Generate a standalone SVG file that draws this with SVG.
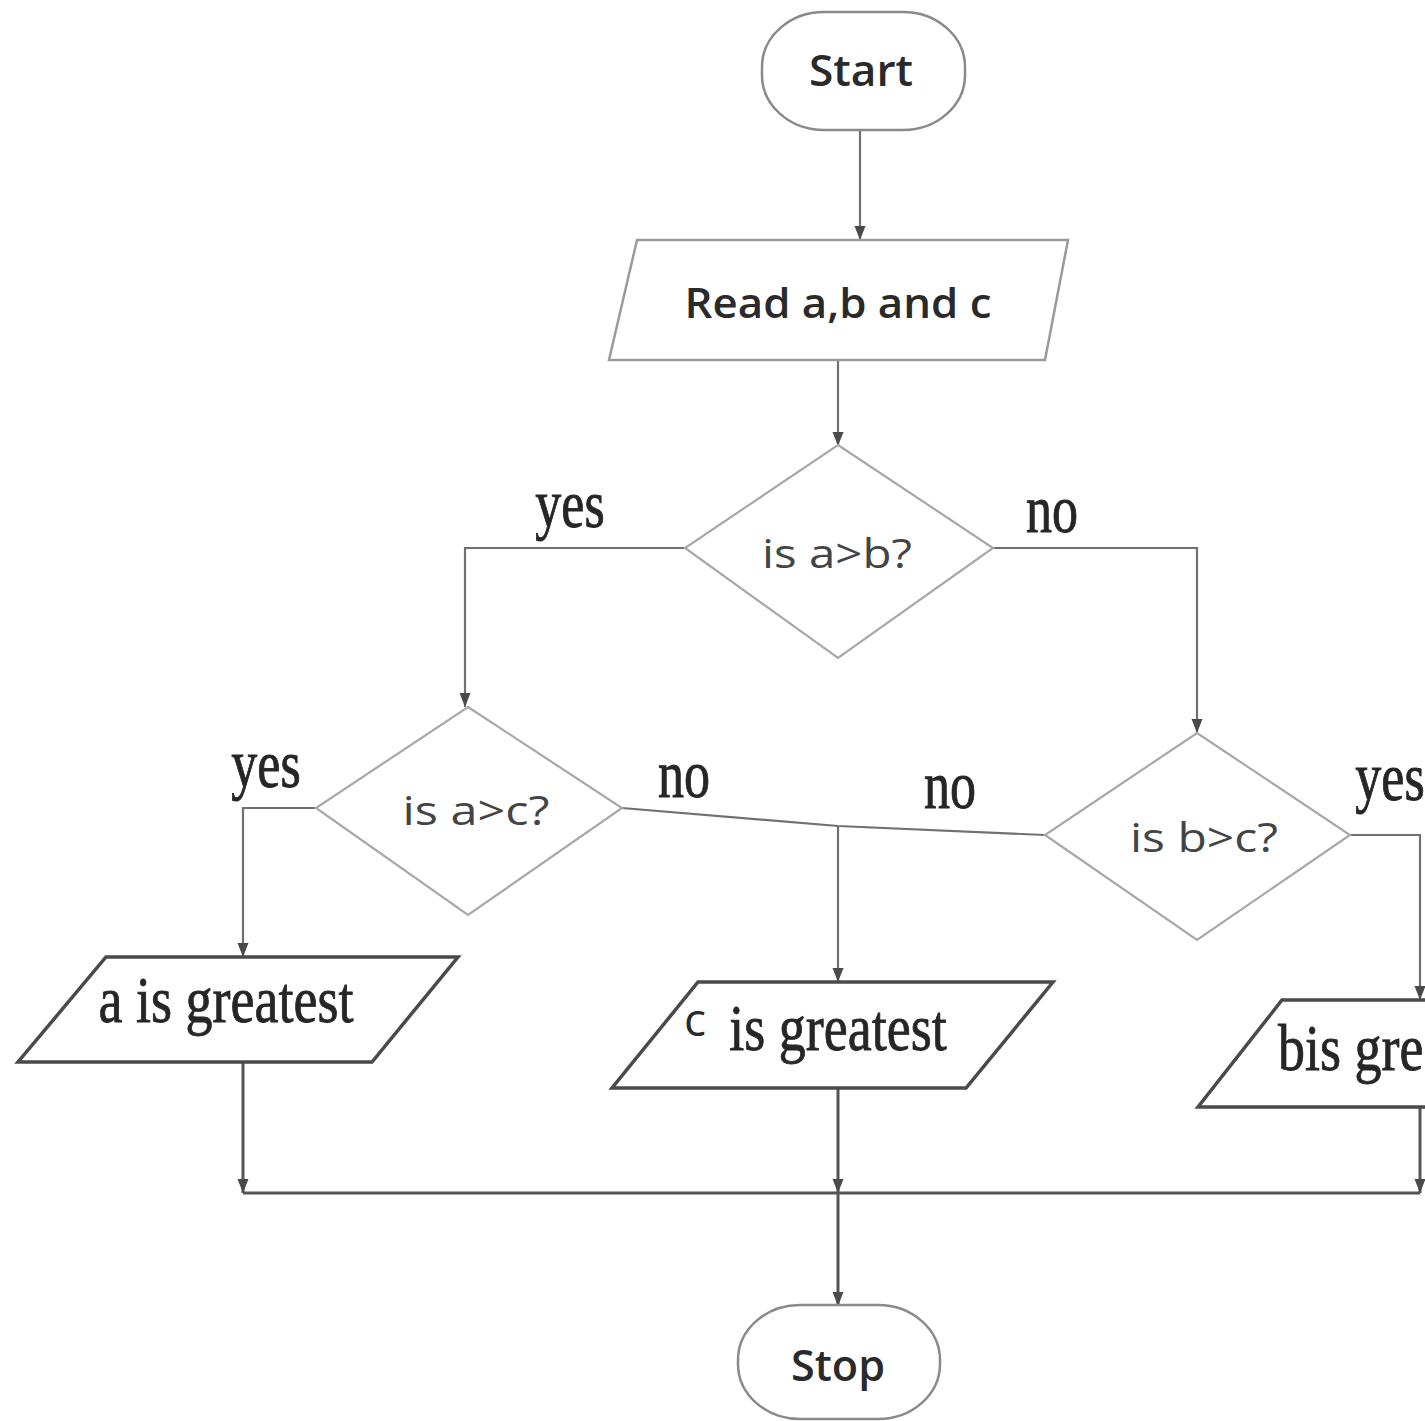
<svg xmlns="http://www.w3.org/2000/svg" width="1425" height="1421" viewBox="0 0 1425 1421">
  <style>
    .term { fill: #fff; stroke: #8a8a8a; stroke-width: 2.5; }
    .input { fill: #fff; stroke: #9a9a9a; stroke-width: 2.5; }
    .dec { fill: #fff; stroke: #a8a8a8; stroke-width: 2.2; }
    .out { fill: #fff; stroke: #4a4a4a; stroke-width: 3.5; stroke-linejoin: miter; }
    .sans { font-family: "Open Sans", "Noto Sans", "Liberation Sans", sans-serif; fill: #2a2a2a; }
    .strong { font-weight: 600; }
    .soft { fill: #444; }
    .serif { font-family: "Liberation Serif", "DejaVu Serif", serif; fill: #262626; stroke: #262626; stroke-width: 0.7; }
    .conn { fill: none; stroke: #707070; stroke-width: 2.2; }
    .conn-dark { fill: none; stroke: #555; stroke-width: 3; }
  </style>
  <defs>
    <marker id="arr" markerUnits="userSpaceOnUse" markerWidth="14" markerHeight="12" refX="14" refY="6" orient="auto" viewBox="0 0 14 12">
      <path d="M0,0.5 L14,6 L0,11.5 Z" fill="#4a4a4a"/>
    </marker>
  </defs>

  <rect width="1425" height="1421" fill="#fff"/>

  <!-- connectors -->
  <g id="connectors">
    <path class="conn" d="M860,130 V240" marker-end="url(#arr)"/>
    <path class="conn" d="M838,360 V446" marker-end="url(#arr)"/>
    <path class="conn" d="M685,548 H465 V707" marker-end="url(#arr)"/>
    <path class="conn" d="M993,548 H1197 V733" marker-end="url(#arr)"/>
    <path class="conn" d="M316,808 H243 V957" marker-end="url(#arr)"/>
    <path class="conn" d="M622,808 L838,826 L1045,835"/>
    <path class="conn" d="M838,826 V982" marker-end="url(#arr)"/>
    <path class="conn" d="M1350,835 H1420 V1000" marker-end="url(#arr)"/>
    <path class="conn-dark" d="M243,1062 V1193" marker-end="url(#arr)"/>
    <path class="conn-dark" d="M1420,1107 V1193" marker-end="url(#arr)"/>
    <path class="conn-dark" d="M838,1088 V1193" marker-end="url(#arr)"/>
    <path class="conn-dark" d="M838,1193 V1306" marker-end="url(#arr)"/>
    <path class="conn-dark" d="M243,1193 H1420"/>
  </g>

  <!-- branch labels -->
  <g id="labels" class="serif" font-size="52" text-anchor="middle">
    <text transform="translate(570 527) scale(1 1.3)">yes</text>
    <text transform="translate(1052 532) scale(1 1.3)">no</text>
    <text transform="translate(266 787) scale(1 1.3)">yes</text>
    <text transform="translate(684 797) scale(1 1.3)">no</text>
    <text transform="translate(950 808) scale(1 1.3)">no</text>
    <text transform="translate(1390 800) scale(1 1.3)">yes</text>
  </g>

  <g id="start">
    <rect class="term" x="762" y="12" width="203" height="118" rx="62" ry="55"/>
    <text class="sans strong" x="861" y="86" font-size="44" text-anchor="middle" textLength="104" lengthAdjust="spacingAndGlyphs">Start</text>
  </g>

  <g id="read">
    <polygon class="input" points="637,240 1068,240 1045,360 609,360"/>
    <text class="sans strong" x="838" y="318" font-size="42" text-anchor="middle" textLength="307" lengthAdjust="spacingAndGlyphs">Read a,b and c</text>
  </g>

  <g id="dec-ab">
    <polygon class="dec" points="838,445 993,548 838,658 685,548"/>
    <text class="sans soft" x="837" y="568" font-size="40" text-anchor="middle" textLength="150" lengthAdjust="spacingAndGlyphs">is a&gt;b?</text>
  </g>

  <g id="dec-ac">
    <polygon class="dec" points="468,707 622,808 468,915 316,808"/>
    <text class="sans soft" x="476" y="825" font-size="40" text-anchor="middle" textLength="147" lengthAdjust="spacingAndGlyphs">is a&gt;c?</text>
  </g>

  <g id="dec-bc">
    <polygon class="dec" points="1197,733 1350,835 1197,940 1045,835"/>
    <text class="sans soft" x="1204" y="852" font-size="40" text-anchor="middle" textLength="148" lengthAdjust="spacingAndGlyphs">is b&gt;c?</text>
  </g>

  <g id="out-a">
    <polygon class="out" points="106,957 458,957 372,1062 18,1062"/>
    <text class="serif" transform="translate(226 1022) scale(1 1.2)" font-size="54" text-anchor="middle">a is greatest</text>
  </g>

  <g id="out-c">
    <polygon class="out" points="698,982 1053,982 966,1088 612,1088"/>
    <text class="sans" x="684" y="1036" font-size="46">c</text>
    <text class="serif" transform="translate(838 1050) scale(1 1.2)" font-size="54" text-anchor="middle">is greatest</text>
  </g>

  <g id="out-b">
    <polygon class="out" points="1282,1000 1640,1000 1554,1107 1198,1107"/>
    <text class="serif" transform="translate(1278 1070) scale(1 1.2)" font-size="54">b<tspan>is greatest</tspan></text>
  </g>

  <g id="stop">
    <rect class="term" x="738" y="1305" width="202" height="114" rx="62" ry="55"/>
    <text class="sans strong" x="838" y="1381" font-size="44" text-anchor="middle" textLength="94" lengthAdjust="spacingAndGlyphs">Stop</text>
  </g>
</svg>
